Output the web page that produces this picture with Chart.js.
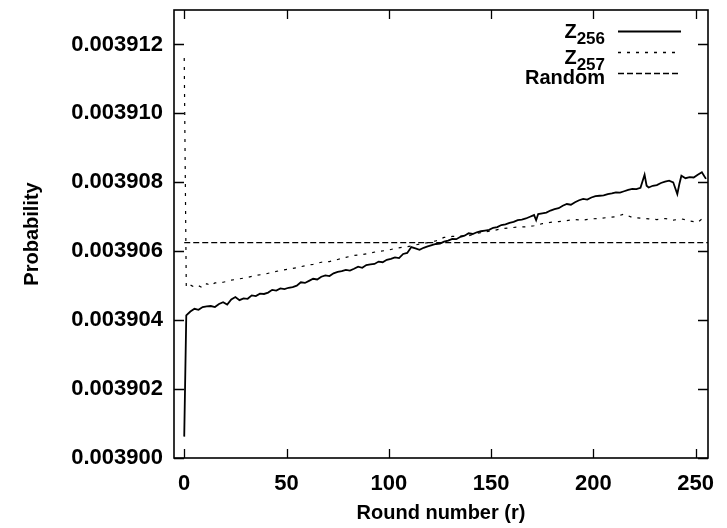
<!DOCTYPE html>
<html>
<head>
<meta charset="UTF-8">
<title>Probability vs round number</title>
<script src="https://cdn.jsdelivr.net/npm/chart.js"></script>
<style>
    html, body { margin: 0; padding: 0; background: #fff; }
    #wrap { width: 727px; height: 528px; }
</style>
</head>
<body>
<div id="wrap"><canvas id="chart" width="727" height="528"></canvas></div>
<script>
// rounds and values
const z256Rounds = [0, 1, 3, 5, 7, 9, 11, 13, 15, 17, 19, 21, 23, 25, 27, 29, 31, 33, 35, 37, 39,
    41, 43, 45, 47, 49, 51, 53, 55, 57, 59, 61, 63, 65, 67, 69, 71, 73, 75, 77, 79,
    81, 83, 85, 87, 89, 91, 93, 95, 97, 99, 101, 103, 105, 107, 109, 111, 113, 115, 117, 119,
    121, 123, 125, 127, 129, 131, 133, 135, 137, 139, 141, 143, 145, 147, 149, 151, 153, 155, 157, 159,
    161, 163, 165, 167, 169, 171, 172, 173, 175, 177, 179, 181, 183, 185, 187, 189, 191, 193, 195, 197, 199,
    201, 203, 205, 207, 209, 211, 213, 215, 217, 219, 221, 223, 225, 226, 227, 229, 231, 233, 235, 237, 239,
    241, 242, 243, 245, 247, 249, 251, 253, 255];
const z256Values = [0.00390062, 0.00390414, 0.00390425, 0.00390433, 0.00390430, 0.00390438, 0.00390440, 0.00390441, 0.00390438, 0.00390447, 0.00390452,
    0.00390445, 0.00390460, 0.00390467, 0.00390458, 0.00390463, 0.00390462, 0.00390472, 0.00390470, 0.00390477, 0.00390476,
    0.00390480, 0.00390488, 0.00390486, 0.00390492, 0.00390490, 0.00390494, 0.00390496, 0.00390500, 0.00390510, 0.00390508,
    0.00390514, 0.00390520, 0.00390518, 0.00390526, 0.00390530, 0.00390528, 0.00390536, 0.00390540, 0.00390542, 0.00390546,
    0.00390544, 0.00390549, 0.00390555, 0.00390552, 0.00390560, 0.00390562, 0.00390563, 0.00390570, 0.00390568, 0.00390575,
    0.00390578, 0.00390582, 0.00390580, 0.00390592, 0.00390595, 0.00390612, 0.00390608, 0.00390604, 0.00390610, 0.00390614,
    0.00390618, 0.00390621, 0.00390622, 0.00390628, 0.00390631, 0.00390636, 0.00390635, 0.00390642, 0.00390645, 0.00390652,
    0.00390650, 0.00390655, 0.00390658, 0.00390660, 0.00390662, 0.00390668, 0.00390670, 0.00390676, 0.00390678, 0.00390682,
    0.00390685, 0.00390690, 0.00390692, 0.00390695, 0.00390700, 0.00390705, 0.00390690, 0.00390708, 0.00390710, 0.00390712,
    0.00390718, 0.00390722, 0.00390725, 0.00390732, 0.00390737, 0.00390735, 0.00390742, 0.00390748, 0.00390752, 0.00390750,
    0.00390756, 0.00390760, 0.00390761, 0.00390762, 0.00390766, 0.00390768, 0.00390771, 0.00390770, 0.00390774, 0.00390778,
    0.00390781, 0.00390780, 0.00390784, 0.00390822, 0.00390790, 0.00390785, 0.00390790, 0.00390792, 0.00390798, 0.00390802,
    0.00390805, 0.00390800, 0.00390766, 0.00390795, 0.00390819, 0.00390812, 0.00390815, 0.00390814, 0.00390822, 0.00390829,
    0.00390810];

const z257Rounds = [0, 1, 3, 5, 7, 9, 11, 13, 15, 19, 23, 27, 31, 35, 39, 43, 47, 51, 55, 59, 63, 67, 71, 75,
    79, 83, 87, 91, 95, 99, 103, 107, 111, 115, 119, 123, 127, 131, 135, 139, 143, 147, 151, 155,
    159, 163, 167, 171, 175, 179, 183, 187, 191, 195, 199, 203, 207, 211, 215, 219, 223, 227, 231, 235,
    239, 243, 247, 251, 255];
const z257Values = [0.00391161, 0.00390496, 0.00390502, 0.00390496, 0.00390500, 0.00390494, 0.00390506, 0.00390500, 0.00390508, 0.00390510, 0.00390516, 0.00390520, 0.00390524, 0.00390530,
    0.00390533, 0.00390539, 0.00390544, 0.00390548, 0.00390552, 0.00390558, 0.00390562, 0.00390568, 0.00390570, 0.00390576,
    0.00390582, 0.00390588, 0.00390590, 0.00390595, 0.00390600, 0.00390602, 0.00390608, 0.00390612, 0.00390615, 0.00390621,
    0.00390625, 0.00390630, 0.00390640, 0.00390643, 0.00390644, 0.00390645, 0.00390652, 0.00390656, 0.00390660, 0.00390665,
    0.00390668, 0.00390670, 0.00390671, 0.00390674, 0.00390680, 0.00390684, 0.00390686, 0.00390689, 0.00390692, 0.00390690,
    0.00390694, 0.00390695, 0.00390698, 0.00390700, 0.00390708, 0.00390698, 0.00390696, 0.00390694, 0.00390692, 0.00390695,
    0.00390690, 0.00390694, 0.00390688, 0.00390684, 0.00390703];

const randomRounds = [0, 256];
const randomValues = [0.00390625, 0.00390625];

const xTicks = [0, 50, 100, 150, 200, 250];
const yTicks = [0.003900, 0.003902, 0.003904, 0.003906, 0.003908, 0.003910, 0.003912];

const legendItems = [
    {main: 'Z', sub: '256', dash: []},
    {main: 'Z', sub: '257', dash: [3, 6]},
    {main: 'Random', sub: '', dash: [6, 3]}
];

const FONT = "'Liberation Sans', Arial, sans-serif";

function toPoints(xs, ys) {
    return xs.map((x, i) => ({x: x, y: ys[i]}));
}

// box, inward ticks on all sides and the gnuplot-style key
const framePlugin = {
    id: 'frame',
    afterDatasetsDraw(chart) {
        const ctx = chart.ctx;
        const a = chart.chartArea;
        const xs = chart.scales.x, ys = chart.scales.y;
        ctx.save();
        ctx.strokeStyle = '#000';
        ctx.lineWidth = 1.3;
        ctx.beginPath();
        xTicks.forEach(v => {
            const px = Math.round(xs.getPixelForValue(v)) + 0.5;
            ctx.moveTo(px, a.bottom); ctx.lineTo(px, a.bottom - 9);
            ctx.moveTo(px, a.top); ctx.lineTo(px, a.top + 9);
        });
        yTicks.forEach(v => {
            const py = Math.round(ys.getPixelForValue(v)) + 0.5;
            ctx.moveTo(a.left, py); ctx.lineTo(a.left + 10, py);
            ctx.moveTo(a.right, py); ctx.lineTo(a.right - 10, py);
        });
        ctx.stroke();
        ctx.lineWidth = 1.6;
        ctx.strokeRect(a.left, a.top, a.right - a.left, a.bottom - a.top);

        // key
        const textRight = 605, lineL = 618, lineR = 681;
        const rows = [{ly: 31, base: 37.5}, {ly: 52, base: 63.5}, {ly: 73, base: 84}];
        ctx.fillStyle = '#000';
        ctx.textBaseline = 'alphabetic';
        ctx.textAlign = 'left';
        legendItems.forEach((it, i) => {
            const r = rows[i];
            ctx.font = 'bold 20px ' + FONT;
            const wMain = ctx.measureText(it.main).width;
            ctx.font = 'bold 17px ' + FONT;
            const wSub = ctx.measureText(it.sub).width;
            const x0 = textRight - wMain - wSub;
            ctx.font = 'bold 20px ' + FONT;
            ctx.fillText(it.main, x0, r.base);
            if (it.sub) {
                ctx.font = 'bold 17px ' + FONT;
                ctx.fillText(it.sub, x0 + wMain, r.base + 6);
            }
            ctx.beginPath();
            ctx.setLineDash(it.dash);
            ctx.lineWidth = i === 0 ? 1.8 : 1.3;
            ctx.moveTo(lineL, r.ly + 0.5);
            ctx.lineTo(lineR, r.ly + 0.5);
            ctx.stroke();
        });
        ctx.setLineDash([]);
        ctx.restore();
    }
};

new Chart(document.getElementById('chart'), {
    type: 'line',
    data: {
        datasets: [
            {
                label: 'Z256',
                data: toPoints(z256Rounds, z256Values),
                borderColor: '#000',
                borderWidth: 1.8,
                pointRadius: 0,
                tension: 0
            },
            {
                label: 'Z257',
                data: toPoints(z257Rounds, z257Values),
                borderColor: '#000',
                borderWidth: 1.2,
                borderDash: [3, 6],
                pointRadius: 0,
                tension: 0
            },
            {
                label: 'Random',
                data: toPoints(randomRounds, randomValues),
                borderColor: '#000',
                borderWidth: 1.3,
                borderDash: [6, 3],
                pointRadius: 0,
                tension: 0
            }
        ]
    },
    options: {
        responsive: false,
        animation: false,
        layout: {padding: {top: 10, right: 19, left: 0, bottom: 0}},
        plugins: {
            legend: {display: false},
            tooltip: {enabled: false}
        },
        scales: {
            x: {
                type: 'linear',
                min: -5,
                max: 256,
                grid: {display: false, drawTicks: false},
                border: {display: false},
                afterBuildTicks: s => { s.ticks = xTicks.map(v => ({value: v})); },
                afterFit: s => { s.height = 70; s.paddingLeft = 0; s.paddingRight = 0; },
                ticks: {
                    padding: 13,
                    color: '#000',
                    font: {family: FONT, size: 22, weight: 'bold'},
                    maxRotation: 0
                },
                title: {
                    display: true,
                    text: 'Round number (r)',
                    color: '#000',
                    font: {family: FONT, size: 20, weight: 'bold'},
                    padding: {top: 3, bottom: 3}
                }
            },
            y: {
                type: 'linear',
                min: 0.0039,
                max: 0.003913,
                grid: {display: false, drawTicks: false},
                border: {display: false},
                afterBuildTicks: s => { s.ticks = yTicks.map(v => ({value: v})); },
                afterFit: s => { s.width = 174; s.paddingTop = 0; s.paddingBottom = 0; },
                ticks: {
                    padding: 11,
                    color: '#000',
                    font: {family: FONT, size: 22, weight: 'bold'},
                    callback: v => v.toFixed(6)
                },
                title: {
                    display: true,
                    text: 'Probability',
                    color: '#000',
                    font: {family: FONT, size: 20, weight: 'bold'},
                    padding: {top: 20, bottom: 0}
                }
            }
        }
    },
    plugins: [framePlugin]
});
</script>
</body>
</html>
